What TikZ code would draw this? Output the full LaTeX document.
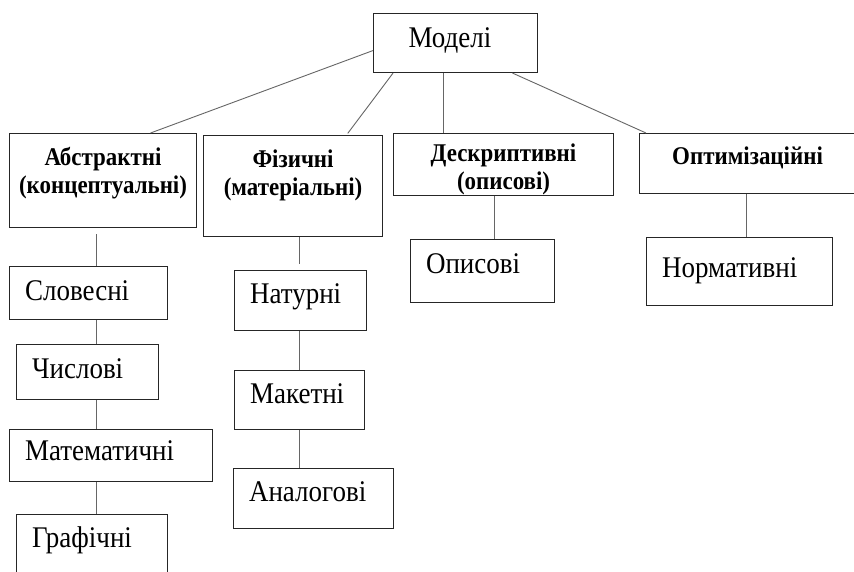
\documentclass[tikz,border=0pt]{standalone}
\usepackage{fontspec}
\setmainfont{Liberation Serif}[FakeStretch=0.9]

\tikzset{
  box/.style={draw=black!85, line width=1.1pt, anchor=north west,
    inner ysep=0pt, minimum width=0pt, minimum height=0pt},
  kind/.style={box, align=center, inner xsep=2pt,
    font=\fontsize{25.5}{27.5}\selectfont\bfseries},
  leaf/.style={box, align=left, inner xsep=15.5pt,
    font=\fontsize{30}{34}\selectfont},
  link/.style={draw=black!60, line width=0.9pt}
}

\begin{document}
\begin{tikzpicture}[x=1pt,y=-1pt]

        \path[use as bounding box, fill=white] (0,0) rectangle (854,572);

        \node[leaf, inner xsep=35pt, text width=94pt, text height=34pt, text depth=25pt] (model) at (373,13) {Моделі};

        \node[kind, text width=183pt, text height=32pt, text depth=62pt] (abstr) at (9,133) {Абстрактні\\(концептуальні)};
        \node[kind, text width=175pt, text height=32pt, text depth=69pt] (phys) at (203,135) {Фізичні\\(матеріальні)};
        \node[kind, text width=216pt, text height=28pt, text depth=34pt] (descr) at (393,133) {Дескриптивні\\(описові)};
        \node[kind, text width=212pt, text height=31pt, text depth=29pt] (optim) at (639,133) {Оптимізаційні};

        \node[leaf, text width=127pt, text height=34pt, text depth=19pt] (slov) at (9,266) {Словесні};
        \node[leaf, text width=111pt, text height=33.7pt, text depth=21.3pt] (chysl) at (16,344) {Числові};
        \node[leaf, text width=172pt, text height=31pt, text depth=21pt] (math) at (9,429) {Математичні};
        \node[leaf, text width=120pt, text height=32.7pt, text depth=37.3pt] (graf) at (16,514) {Графічні};

        \node[leaf, text width=101pt, text height=33pt, text depth=27pt] (natur) at (234,270) {Натурні};
        \node[leaf, text width=99pt, text height=32.7pt, text depth=26.3pt] (maket) at (234,370) {Макетні};
        \node[leaf, text width=129pt, text height=32.7pt, text depth=27.3pt] (analog) at (233,468) {Аналогові};

        \node[leaf, text width=113pt, text height=34.3pt, text depth=28.7pt] (opys) at (410,239) {Описові};
        \node[leaf, text width=155pt, text height=39.7pt, text depth=28.3pt] (norm) at (646,237) {Нормативні};

        \coordinate (colA) at (96,0);
        \coordinate (colF) at (299.5,0);
        \coordinate (colM) at (443.5,0);
        \coordinate (colD) at (494,0);
        \coordinate (colO) at (746,0);

        \draw[link] ([yshift=-7.5pt]model.west) -- ([xshift=47.5pt]abstr.north);
        \draw[link, shorten >=2pt] ([xshift=20pt]model.south west) -- ([xshift=53.5pt]phys.north);
        \draw[link] (model.south -| colM) -- (descr.north -| colM);
        \draw[link] ([xshift=57pt]model.south) -- ([xshift=7pt]optim.north west);

        \draw[link, shorten <=6pt] (abstr.south -| colA) -- (slov.north -| colA);
        \foreach \a/\b in {slov/chysl, chysl/math, math/graf}
          \draw[link] (\a.south -| colA) -- (\b.north -| colA);

        \draw[link, shorten >=6pt] (phys.south -| colF) -- (natur.north -| colF);
        \foreach \a/\b in {natur/maket, maket/analog}
          \draw[link] (\a.south -| colF) -- (\b.north -| colF);

        \draw[link] (descr.south -| colD) -- (opys.north -| colD);
        \draw[link] (optim.south -| colO) -- (norm.north -| colO);

      \end{tikzpicture}
\end{document}
